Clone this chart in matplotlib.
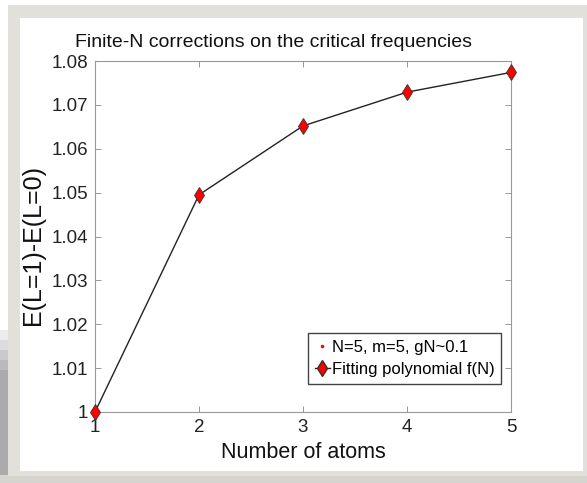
import matplotlib
matplotlib.use("Agg")
import matplotlib.pyplot as plt
from matplotlib.patches import Rectangle
from matplotlib.lines import Line2D

n_atoms = [1, 2, 3, 4, 5]
energy_gap = [1.0000, 1.0495, 1.0652, 1.0729, 1.0774]

x_ticks = [1, 2, 3, 4, 5]
y_ticks = [1.00, 1.01, 1.02, 1.03, 1.04, 1.05, 1.06, 1.07, 1.08]
y_ticklabels = ["1", "1.01", "1.02", "1.03", "1.04", "1.05", "1.06", "1.07", "1.08"]

W, H = 587, 483
plt.rcParams["font.family"] = ["Liberation Sans", "DejaVu Sans"]

fig = plt.figure(figsize=(W / 100, H / 100), dpi=100)
fig.patch.set_facecolor("white")


def px_rect(x0, y0, x1, y1, color, z=0):
    # rectangle given in image pixel coords (origin top-left)
    fig.patches.append(Rectangle((x0 / W, 1 - y1 / H), (x1 - x0) / W, (y1 - y0) / H,
                                 transform=fig.transFigure, facecolor=color,
                                 edgecolor="none", zorder=z))


# drop shadow on the left / bottom, then the grey frame and the white card
for i, c in enumerate(["#ececec", "#dcdcdc", "#cacaca", "#bababa", "#ababab"]):
    px_rect(0, 330 + i * 10, 8, 483, c, z=-3)
px_rect(0, 475, 587, 483, "#d6d4ce", z=-3)
px_rect(8, 5, 587, 476, "#e2e0da", z=-2)
px_rect(20, 18, 583, 471, "white", z=-1)

ax = fig.add_axes([95 / W, 1 - 412 / H, (511 - 95) / W, (412 - 61) / H])
ax.set_facecolor("white")

ax.plot(n_atoms, energy_gap, "-", color="#222222", lw=1.0, zorder=3, clip_on=False)
ax.plot(n_atoms, energy_gap, "d", color="red", markeredgecolor="#333333",
        markeredgewidth=0.6, markersize=8.5, zorder=4, clip_on=False)
ax.plot(n_atoms, energy_gap, ".", color="red", markersize=2, zorder=2, clip_on=False)

ax.set_xlim(1, 5)
ax.set_ylim(1.0, 1.08)
ax.set_xticks(x_ticks)
ax.set_xticklabels([str(v) for v in x_ticks])
ax.set_yticks(y_ticks)
ax.set_yticklabels(y_ticklabels)
ax.tick_params(direction="in", length=4, width=0.6, color="#888888",
               labelsize=13.5, labelcolor="#222222", top=True, right=True, pad=5)
for spine in ax.spines.values():
    spine.set_edgecolor("#999999")
    spine.set_linewidth(0.8)

ax.set_xlabel("Number of atoms", fontsize=15.5, color="#111111", labelpad=4)
ax.set_ylabel("E(L=1)-E(L=0)", fontsize=18, color="#111111")
ax.yaxis.set_label_coords(-0.12, 0.476)
ax.set_title("Finite-N corrections on the critical frequencies",
             fontsize=14, color="#111111", pad=10, x=0.428)

handles = [
    Line2D([0], [0], marker=".", color="none", markerfacecolor="red",
           markeredgecolor="red", markersize=3, label="N=5, m=5, gN~0.1"),
    Line2D([0], [0], marker="d", color="#222222", lw=1.0, markerfacecolor="red",
           markeredgecolor="#333333", markersize=8.5, label="Fitting polynomial f(N)"),
]
ax.legend(handles=handles, loc="lower right", bbox_to_anchor=(0.976, 0.08),
          fontsize=12, frameon=True, fancybox=False, edgecolor="#444444",
          framealpha=1, handlelength=0.9, handletextpad=0.1, borderpad=0.4,
          labelspacing=0.43, borderaxespad=0)

fig.savefig("out.png", dpi=100, facecolor=fig.get_facecolor())
